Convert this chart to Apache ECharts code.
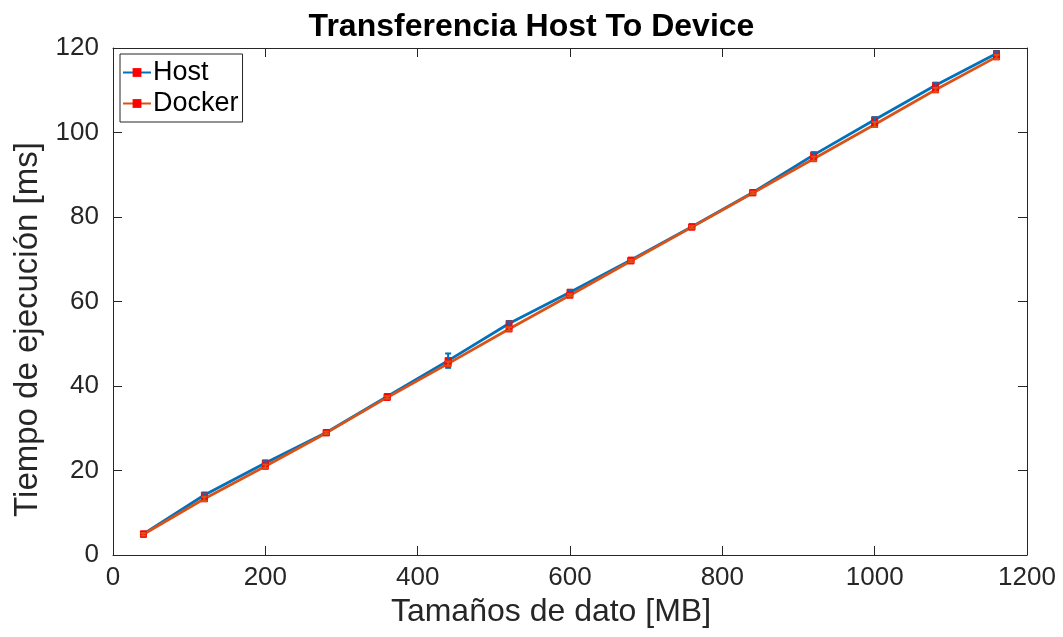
<!DOCTYPE html>
<html>
<head>
<meta charset="utf-8">
<script src="https://cdn.jsdelivr.net/npm/echarts@6/dist/echarts.min.js"></script>
<style>
html,body{margin:0;padding:0;background:#fff;}
#chart{width:1063px;height:637px;}
</style>
</head>
<body>
<div id="chart"></div>
<script>
const sizes = [40, 120, 200, 280, 360, 440, 520, 600, 680, 760, 840, 920, 1000, 1080, 1160];
const hostTime = [5.0, 14.2, 21.8, 29.0, 37.5, 46.0, 54.8, 62.2, 69.8, 77.7, 85.8, 94.7, 103.0, 111.2, 118.7];
const hostErr = [0.3, 0.4, 0.4, 0.3, 0.3, 1.7, 0.5, 0.4, 0.3, 0.3, 0.3, 0.6, 0.6, 0.5, 0.5];
const dockerTime = [4.9, 13.3, 21.0, 28.9, 37.3, 45.3, 53.5, 61.5, 69.6, 77.6, 85.7, 93.8, 101.9, 110.1, 117.9];
const dockerErr = [0.3, 0.5, 0.4, 0.3, 0.3, 0.5, 0.4, 0.3, 0.3, 0.3, 0.3, 0.5, 0.6, 0.5, 0.5];
const xTicks = [0, 200, 400, 600, 800, 1000, 1200];
const yTicks = [0, 20, 40, 60, 80, 100, 120];

const hostColor = '#0072BD';
const dockerColor = '#D95319';
const markerColor = '#FF0000';
const axisColor = '#262626';
const fontFam = '"Liberation Sans", Arial, Helvetica, sans-serif';

function errData(ys, es) {
  return sizes.map((x, i) => [x, ys[i] - es[i], ys[i] + es[i]]);
}
function errRender(color) {
  return function (params, api) {
    const x = api.value(0);
    const lo = api.coord([x, api.value(1)]);
    const hi = api.coord([x, api.value(2)]);
    const cw = 3;
    const style = { stroke: color, lineWidth: 2, fill: null };
    return {
      type: 'group',
      children: [
        { type: 'line', shape: { x1: lo[0], y1: lo[1], x2: hi[0], y2: hi[1] }, style: style },
        { type: 'line', shape: { x1: lo[0] - cw, y1: lo[1], x2: lo[0] + cw, y2: lo[1] }, style: style },
        { type: 'line', shape: { x1: hi[0] - cw, y1: hi[1], x2: hi[0] + cw, y2: hi[1] }, style: style }
      ]
    };
  };
}

const chart = echarts.init(document.getElementById('chart'), null, { renderer: 'canvas' });
const axisCommon = {
  axisLine: { show: true, onZero: false, lineStyle: { color: axisColor, width: 1 } },
  axisTick: { show: true, inside: true, length: 9, lineStyle: { color: axisColor, width: 1 } },
  splitLine: { show: false }
};
chart.setOption({
  animation: false,
  backgroundColor: '#ffffff',
  title: {
    text: 'Transferencia Host To Device',
    left: 'center',
    top: 6,
    textStyle: { fontFamily: fontFam, fontSize: 32, fontWeight: 'bold', color: '#000' }
  },
  legend: {
    orient: 'vertical',
    left: 120,
    top: 54,
    padding: [5, 4, 5, 2],
    itemGap: 4,
    itemWidth: 28,
    itemHeight: 11,
    borderColor: axisColor,
    borderWidth: 1,
    backgroundColor: '#fff',
    textStyle: { fontFamily: fontFam, fontSize: 27, color: '#000', padding: [0, 0, 0, -3] },
    data: ['Host', 'Docker']
  },
  grid: { left: 113, right: 36, top: 48, bottom: 82, containLabel: false },
  xAxis: [
    Object.assign({
      type: 'value', min: 0, max: 1200, interval: 200, position: 'bottom',
      name: 'Tamaños de dato [MB]', nameLocation: 'middle', nameGap: 40,
      nameTextStyle: { fontFamily: fontFam, fontSize: 32, color: axisColor, padding: [0, 38, 0, 0] },
      axisLabel: { fontFamily: fontFam, fontSize: 26, color: axisColor, margin: 10,
        formatter: v => xTicks.includes(v) ? String(v) : '' }
    }, axisCommon),
    Object.assign({
      type: 'value', min: 0, max: 1200, interval: 200, position: 'top',
      axisLabel: { show: false }
    }, axisCommon)
  ],
  yAxis: [
    Object.assign({
      type: 'value', min: 0, max: 120, interval: 20, position: 'left',
      name: 'Tiempo de ejecución [ms]', nameLocation: 'middle', nameGap: 64,
      nameTextStyle: { fontFamily: fontFam, fontSize: 33, color: axisColor, padding: [0, 56, 0, 0] },
      axisLabel: { fontFamily: fontFam, fontSize: 26, color: axisColor, margin: 14,
        formatter: v => yTicks.includes(v) ? String(v) : '' }
    }, axisCommon),
    Object.assign({
      type: 'value', min: 0, max: 120, interval: 20, position: 'right',
      axisLabel: { show: false }
    }, axisCommon)
  ],
  series: [
    {
      name: 'Host', type: 'line',
      data: sizes.map((x, i) => [x, hostTime[i]]),
      symbol: 'rect', symbolSize: 6, showAllSymbol: true,
      lineStyle: { color: hostColor, width: 2.8 },
      itemStyle: { color: markerColor, borderColor: markerColor },
      z: 2
    },
    {
      name: 'HostErr', type: 'custom',
      data: errData(hostTime, hostErr),
      renderItem: errRender(hostColor),
      encode: { x: 0, y: [1, 2] },
      z: 3
    },
    {
      name: 'Docker', type: 'line',
      data: sizes.map((x, i) => [x, dockerTime[i]]),
      symbol: 'rect', symbolSize: 6, showAllSymbol: true,
      lineStyle: { color: dockerColor, width: 2.8 },
      itemStyle: { color: markerColor, borderColor: markerColor },
      z: 4
    },
    {
      name: 'DockerErr', type: 'custom',
      data: errData(dockerTime, dockerErr),
      renderItem: errRender(dockerColor),
      encode: { x: 0, y: [1, 2] },
      z: 5
    }
  ]
});
</script>
</body>
</html>
